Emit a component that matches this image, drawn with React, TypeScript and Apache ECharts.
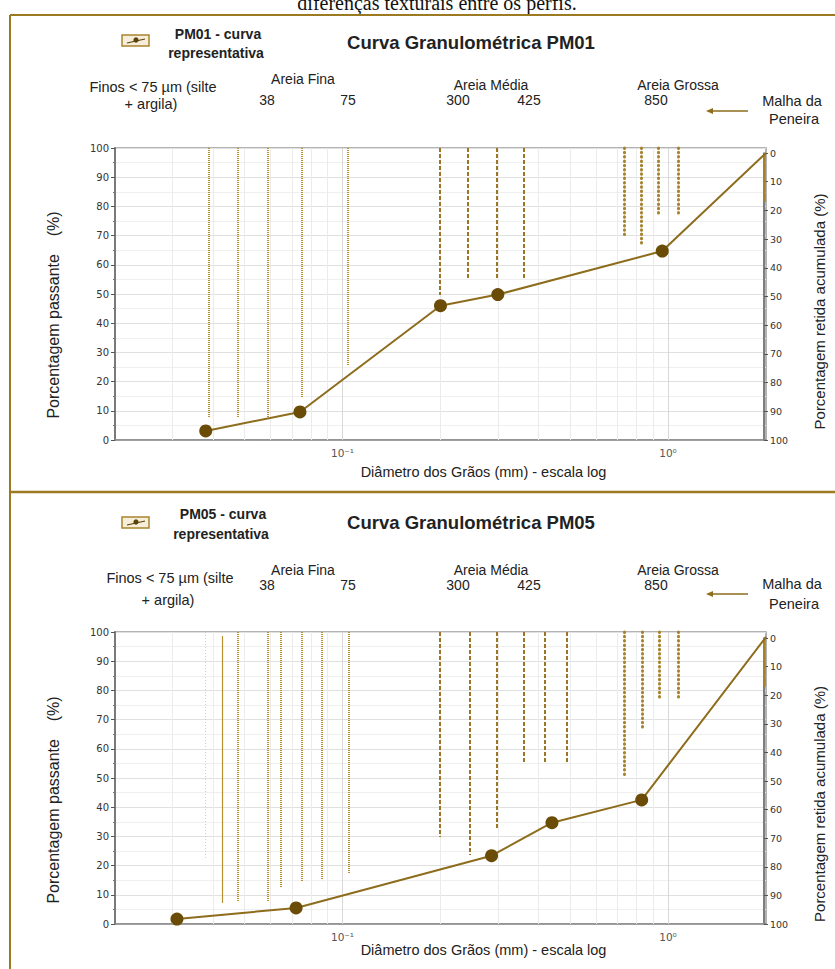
import React, { useEffect, useRef } from 'react';
import * as echarts from 'echarts';

// ---- Data ----
// PM01 representative curve: sieve diameter (mm) vs % passing
const pm01Diam = [0.038, 0.074, 0.2, 0.3, 0.96, 2.0];
const pm01Pass = [3.1, 9.6, 46, 49.8, 64.7, 98.3];
// PM05 representative curve
const pm05Diam = [0.031, 0.072, 0.287, 0.44, 0.83, 2.0];
const pm05Pass = [1.7, 5.5, 23.4, 34.7, 42.5, 98.3];

// Other samples shown as vertical markers (diameter, lower end in % passing)
const pm01FineX = [0.0387, 0.0475, 0.0588, 0.0748, 0.1036];
const pm01FineEnd = [7.9, 7.9, 7.9, 14.4, 25.7];
const pm01DashX = [0.199, 0.243, 0.298, 0.36];
const pm01DashEnd = [49.7, 55.2, 55.2, 55.2];
const pm01HeavyX = [0.732, 0.826, 0.931, 1.074];
const pm01HeavyEnd = [69.5, 67.5, 76.7, 76.7];

const pm05SolidX = [0.0427];
const pm05SolidEnd = [7.2];
const pm05GreyX = [0.0379];
const pm05GreyEnd = [22];
const pm05FineX = [0.0475, 0.0588, 0.0644, 0.0748, 0.0862, 0.1043];
const pm05FineEnd = [7.9, 7.9, 12.3, 14.4, 15.4, 17.1];
const pm05DashX = [0.199, 0.246, 0.298, 0.36, 0.418, 0.489];
const pm05DashEnd = [29.8, 23.6, 32.9, 55, 54.8, 54.8];
const pm05HeavyX = [0.732, 0.832, 0.938, 1.074];
const pm05HeavyEnd = [50, 67.1, 76.7, 76.7];

// Header labels
const sieveLabels = ['38', '75', '300', '425', '850'];
const fractionLabels = ['Areia Fina', 'Areia Média', 'Areia Grossa'];
const titles = ['Curva Granulométrica PM01', 'Curva Granulométrica PM05'];
const legendNames = ['PM01 - curva', 'PM05 - curva'];

const X_MIN = 0.02;
const X_MAX = 2;

const GOLD_LINE = '#8d6c1c';
const MARKER = '#6b4c06';
const FINE = '#b8922e';
const DASH = '#9c7622';
const HEAVY = '#a6832c';

const SANS = '"Liberation Sans", Arial, sans-serif';
const TICK = '"DejaVu Sans", sans-serif';

function vLines(xs: number[], ends: number[], style: any, top = 100) {
  return xs.map((x, i) => [
    { coord: [x, top], lineStyle: style },
    { coord: [x, ends[i]] },
  ]);
}

function logGridValues() {
  const out: { v: number; major: boolean }[] = [];
  [0.01, 0.1, 1].forEach((d) => {
    for (let k = 1; k <= 9; k++) {
      const v = +(k * d).toPrecision(3);
      if (v > X_MIN && v < X_MAX) out.push({ v, major: k === 1 });
    }
  });
  return out;
}

export default function App() {
  const ref = useRef<HTMLDivElement>(null);

  useEffect(() => {
    if (!ref.current) return;
    const chart = echarts.init(ref.current, undefined, { renderer: 'svg' });

    const fineStyle = { color: FINE, width: 2, type: [1, 1] };
    const dashStyle = { color: DASH, width: 2, type: [4, 2] };
    const heavyStyle = { color: HEAVY, width: 3, type: [0.5, 3.8], cap: 'round' };
    const solidStyle = { color: FINE, width: 1.2, type: 'solid' };
    const greyStyle = { color: '#cfcfcf', width: 1, type: [1, 2] };

    const panels = [
      {
        top: 148,
        rTop: 153,
        diam: pm01Diam,
        pass: pm01Pass,
        xNameGap: 24,
        lShift: 42,
        rShift: 30,
        marks: [
          ...vLines(pm01FineX, pm01FineEnd, fineStyle),
          ...vLines(pm01DashX, pm01DashEnd, dashStyle),
          ...vLines(pm01HeavyX, pm01HeavyEnd, heavyStyle),
        ],
      },
      {
        top: 632,
        rTop: 638,
        diam: pm05Diam,
        pass: pm05Pass,
        xNameGap: 17,
        lShift: 44,
        rShift: 46,
        marks: [
          ...vLines(pm05GreyX, pm05GreyEnd, greyStyle),
          ...vLines(pm05SolidX, pm05SolidEnd, solidStyle, 98.6),
          ...vLines(pm05FineX, pm05FineEnd, fineStyle),
          ...vLines(pm05DashX, pm05DashEnd, dashStyle),
          ...vLines(pm05HeavyX, pm05HeavyEnd, heavyStyle),
        ],
      },
    ];

    const PLOT_H = 292;
    const grid: any[] = [];
    const xAxis: any[] = [];
    const yAxis: any[] = [];
    const series: any[] = [];
    const gridVals = logGridValues();

    panels.forEach((p, pi) => {
      const gi = pi * 2;
      grid.push({
        left: 115,
        width: 651,
        top: p.top,
        height: PLOT_H,
        show: true,
        borderColor: '#9a9a9a',
        borderWidth: 1.5,
        backgroundColor: 'transparent',
      });
      grid.push({
        left: 115,
        width: 651,
        top: p.rTop,
        height: p.top + PLOT_H - p.rTop,
        show: false,
      });
      xAxis.push({
        type: 'log',
        logBase: 10,
        min: X_MIN,
        max: X_MAX,
        gridIndex: gi,
        axisLine: { show: true, lineStyle: { color: '#8a8a8a', width: 1.5 } },
        axisTick: { show: false },
        splitLine: { show: false },
        axisLabel: {
          fontSize: 10.5,
          fontFamily: TICK,
          color: '#555',
          margin: 7,
          showMinLabel: false,
          showMaxLabel: false,
          formatter: (v: number) =>
            Math.abs(v - 0.1) < 1e-6 ? '10⁻¹' : Math.abs(v - 1) < 1e-6 ? '10⁰' : '',
        },
        name: 'Diâmetro dos Grãos (mm) - escala log',
        nameLocation: 'middle',
        nameGap: p.xNameGap,
        nameTextStyle: {
          fontSize: 14.5,
          fontFamily: SANS,
          color: '#222',
          padding: [0, 0, 0, 86],
        },
      });
      xAxis.push({
        type: 'log',
        logBase: 10,
        min: X_MIN,
        max: X_MAX,
        gridIndex: gi + 1,
        show: false,
      });
      yAxis.push({
        type: 'value',
        min: 0,
        max: 100,
        interval: 10,
        gridIndex: gi,
        position: 'left',
        axisLine: { show: true, lineStyle: { color: '#7a7a7a', width: 2 } },
        axisTick: { show: true, length: 4, lineStyle: { color: '#555' } },
        minorTick: { show: true, splitNumber: 2, length: 2, lineStyle: { color: '#777' } },
        splitLine: { show: true, lineStyle: { color: '#e0e0e0', width: 1 } },
        minorSplitLine: { show: true, lineStyle: { color: '#efefef', width: 1 } },
        axisLabel: { fontSize: 10, fontFamily: TICK, color: '#333', margin: 6 },
        name: 'Porcentagem passante    (%)',
        nameLocation: 'middle',
        nameGap: 54,
        nameRotate: 90,
        nameTextStyle: {
          fontSize: 16,
          fontFamily: SANS,
          color: '#222',
          padding: [0, p.lShift, 0, 0],
        },
      });
      yAxis.push({
        type: 'value',
        min: 0,
        max: 100,
        interval: 10,
        inverse: true,
        gridIndex: gi + 1,
        position: 'right',
        axisLine: { show: true, lineStyle: { color: '#555', width: 1.5 } },
        axisTick: { show: true, length: 4, lineStyle: { color: '#555' } },
        splitLine: { show: false },
        axisLabel: { fontSize: 9.5, fontFamily: TICK, color: '#333', margin: 6 },
        name: 'Porcentagem retida acumulada (%)',
        nameLocation: 'middle',
        nameGap: 48,
        nameRotate: 90,
        nameTextStyle: {
          fontSize: 15,
          fontFamily: SANS,
          color: '#222',
          padding: [0, p.rShift, 0, 0],
        },
      });

      // log-scale vertical grid lines
      series.push({
        type: 'line',
        xAxisIndex: gi,
        yAxisIndex: gi,
        data: [],
        silent: true,
        z: 1,
        markLine: {
          silent: true,
          symbol: ['none', 'none'],
          label: { show: false },
          animation: false,
          data: gridVals.map((g) => [
            {
              coord: [g.v, 0],
              lineStyle: { color: g.major ? '#d8d8d8' : '#ebebeb', width: 1, type: 'solid' },
            },
            { coord: [g.v, 100] },
          ]),
        },
      });

      // other samples' vertical markers
      series.push({
        type: 'line',
        xAxisIndex: gi,
        yAxisIndex: gi,
        data: [],
        silent: true,
        z: 2,
        markLine: {
          silent: true,
          symbol: ['none', 'none'],
          label: { show: false },
          animation: false,
          data: p.marks,
        },
      });

      // gold highlight on right axis
      series.push({
        type: 'line',
        xAxisIndex: gi + 1,
        yAxisIndex: gi + 1,
        data: [],
        silent: true,
        z: 6,
        markLine: {
          silent: true,
          symbol: ['none', 'none'],
          label: { show: false },
          animation: false,
          data: [
            [
              { coord: [X_MAX, 0], lineStyle: { color: '#a98226', width: 2.5, type: 'solid' } },
              { coord: [X_MAX, 17] },
            ],
          ],
        },
      });

      // representative curve
      const last = p.diam.length - 1;
      series.push({
        type: 'line',
        name: legendNames[pi],
        xAxisIndex: gi,
        yAxisIndex: gi,
        data: p.diam.map((d, i) => [d, p.pass[i]]),
        symbol: 'circle',
        symbolSize: (_v: any, params: any) => (params.dataIndex === last ? 0 : 13),
        showAllSymbol: true,
        lineStyle: { color: GOLD_LINE, width: 2 },
        itemStyle: { color: MARKER },
        z: 5,
      });
    });

    // ---- Header graphics ----
    const txt = (text: string, x: number, y: number, size: number, weight: any = 'normal', family = SANS, color = '#222') => ({
      type: 'text',
      x,
      y,
      silent: true,
      style: {
        text,
        fontSize: size,
        fontWeight: weight,
        fontFamily: family,
        fill: color,
        textAlign: 'center',
        textVerticalAlign: 'middle',
      },
    });

    const headerLayout = [
      {
        icon: 35, leg1: 34, leg2: 53, legX: 218, title: 42,
        finosX: 153, finos1: 87, finos2: 104,
        fracY: [79, 85, 85], numY: 100, arrowY: 111, malha: 101, peneira: 119,
      },
      {
        icon: 517, leg1: 514, leg2: 534, legX: 223, title: 522,
        finosX: 170, finos1: 578, finos2: 600,
        fracY: [570, 570, 570], numY: 585, arrowY: 594, malha: 584, peneira: 604,
      },
    ];
    const fracX = [303, 491, 678];
    const numX = [267, 348, 458, 529, 656];

    const graphic: any[] = [];
    // clipped caption from the document above the figure
    graphic.push({
      type: 'text',
      x: 437,
      y: 13,
      silent: true,
      style: {
        text: 'diferenças texturais entre os perfis.',
        fontSize: 20,
        fontFamily: '"Liberation Serif", "Times New Roman", serif',
        fill: '#111',
        textAlign: 'center',
        textVerticalAlign: 'bottom',
      },
    });
    // frame
    const FRAME = '#9c7a22';
    graphic.push({ type: 'line', shape: { x1: 10, y1: 15, x2: 835, y2: 15 }, style: { stroke: FRAME, lineWidth: 2 }, silent: true });
    graphic.push({ type: 'line', shape: { x1: 10, y1: 15, x2: 10, y2: 969 }, style: { stroke: FRAME, lineWidth: 2 }, silent: true });
    graphic.push({ type: 'line', shape: { x1: 10, y1: 492, x2: 835, y2: 492 }, style: { stroke: FRAME, lineWidth: 2.5 }, silent: true });

    headerLayout.forEach((h, pi) => {
      // legend icon
      graphic.push({ type: 'rect', shape: { x: 122, y: h.icon, width: 27, height: 11 }, style: { fill: '#f6eedb', stroke: '#a8842c', lineWidth: 1.5 }, silent: true });
      graphic.push({ type: 'line', shape: { x1: 127, y1: h.icon + 8, x2: 145, y2: h.icon + 4 }, style: { stroke: '#5a4108', lineWidth: 1.2 }, silent: true });
      graphic.push({ type: 'circle', shape: { cx: 136, cy: h.icon + 5, r: 2.6 }, style: { fill: '#5a4108' }, silent: true });
      graphic.push(txt(legendNames[pi], h.legX, h.leg1, 14, 'bold'));
      graphic.push(txt('representativa', h.legX - 2, h.leg2, 14, 'bold'));
      graphic.push(txt(titles[pi], 471, h.title, 18.5, 'bold'));
      graphic.push(txt('Finos < 75 µm (silte', h.finosX, h.finos1, 14.5));
      graphic.push(txt('+ argila)', h.finosX - 2, h.finos2, 14.5));
      fractionLabels.forEach((f, i) => graphic.push(txt(f, fracX[i], h.fracY[i], 14)));
      sieveLabels.forEach((s, i) => graphic.push(txt(s, numX[i], h.numY, 14)));
      graphic.push({ type: 'line', shape: { x1: 712, y1: h.arrowY, x2: 748, y2: h.arrowY }, style: { stroke: GOLD_LINE, lineWidth: 1.6 }, silent: true });
      graphic.push({
        type: 'polygon',
        shape: { points: [[706, h.arrowY], [713, h.arrowY - 3], [713, h.arrowY + 3]] },
        style: { fill: GOLD_LINE },
        silent: true,
      });
      graphic.push(txt('Malha da', 792, h.malha, 14.5));
      graphic.push(txt('Peneira', 794, h.peneira, 14.5));
    });

    chart.setOption({
      animation: false,
      backgroundColor: '#ffffff',
      grid,
      xAxis,
      yAxis,
      series,
      graphic,
    });

    return () => chart.dispose();
  }, []);

  return (
    <div
      ref={ref}
      style={{ position: 'absolute', left: 0, top: 0, width: 835, height: 969 }}
    />
  );
}
